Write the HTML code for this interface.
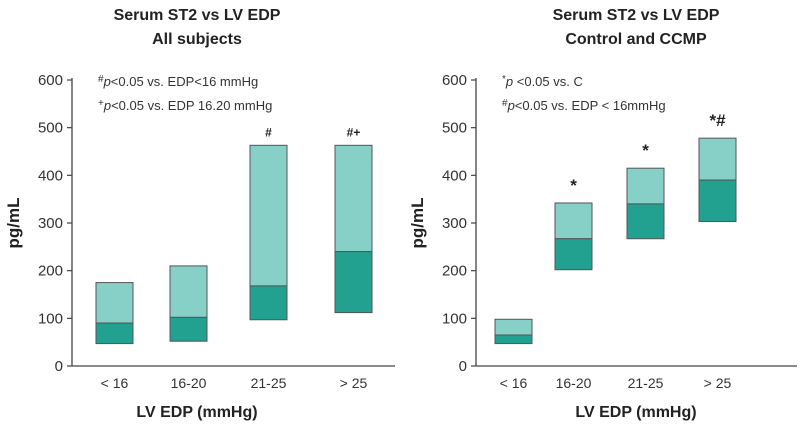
<!DOCTYPE html>
<html><head><meta charset="utf-8"><style>
body{margin:0;background:#fff;}
svg{display:block;font-family:"Liberation Sans",sans-serif;}
</style></head><body>
<svg id="c" width="800" height="437" viewBox="0 0 800 437"></svg>
<script>
const categories = ["< 16","16-20","21-25","> 25"];
const yTicks = [0,100,200,300,400,500,600];
const leftLow = [47,52,97,112];
const leftMid = [90,102,168,240];
const leftHigh = [175,210,463,463];
const leftMarks = ["","","#","#+"];
const rightLow = [47,202,267,303];
const rightMid = [65,267,340,390];
const rightHigh = [98,342,415,478];
const rightMarks = ["","*","*","*#"];

const svg = document.getElementById('c');
const NS = 'http://www.w3.org/2000/svg';
function mk(tag, attrs, text){
  const e = document.createElementNS(NS, tag);
  for (const k in attrs) e.setAttribute(k, attrs[k]);
  if (text !== undefined) e.textContent = text;
  svg.appendChild(e);
  return e;
}
const y0 = 366, y600 = 80;
function yScale(v){ return y0 - (v/600)*(y0-y600); }

function panel(p){
  const g = p;
  const ax = mk('line',{x1:g.axX,y1:y600-2,x2:g.axX,y2:y0,stroke:'#444','stroke-width':1.3});
  
  
  const bx = mk('line',{x1:g.axX,y1:y0,x2:g.axEnd,y2:y0,stroke:'#444','stroke-width':1.3});
  
  
  yTicks.forEach(t=>{
    const tk = mk('line',{x1:g.axX-5,y1:yScale(t),x2:g.axX,y2:yScale(t),stroke:'#444','stroke-width':1.2});
    
    
    const tl = mk('text',{x:g.axX-9,y:yScale(t)+5,'text-anchor':'end','font-size':15,fill:'#333'}, String(t));
    
    
  });
  categories.forEach((c,i)=>{
    const x = g.barX[i], w = 37;
    const top = mk('rect',{x:x,y:yScale(g.high[i]),width:w,height:yScale(g.mid[i])-yScale(g.high[i]),fill:'#86d0c8',stroke:'#555','stroke-width':1});
    
    
    const bot = mk('rect',{x:x,y:yScale(g.mid[i]),width:w,height:yScale(g.low[i])-yScale(g.mid[i]),fill:'#22a090',stroke:'#555','stroke-width':1});
    
    
    if (g.marks[i]) {
      const m = mk('text',{x:x+w/2,y:yScale(g.high[i])-g.markGap,'text-anchor':'middle','font-size':g.markSize,'font-weight':'bold',fill:'#222'}, g.marks[i]);
      
      
    }
    const xl = mk('text',{x:x+w/2,y:388,'text-anchor':'middle','font-size':14,fill:'#333'}, c);
    
    
  });
  const xt = mk('text',{x:g.titleX,y:417,'text-anchor':'middle','font-size':16,'font-weight':'bold',fill:'#222'}, 'LV EDP (mmHg)');
  
  
  const yt = mk('text',{x:0,y:0,'text-anchor':'middle','font-size':17,'font-weight':'bold',fill:'#222',transform:'translate('+(g.axX-53)+',223) rotate(-90)'}, 'pg/mL');
  
  
  const t1 = mk('text',{x:g.titleX,y:20,'text-anchor':'middle','font-size':16,'font-weight':'bold',fill:'#222'}, g.title1);
  
  
  const t2 = mk('text',{x:g.titleX,y:44,'text-anchor':'middle','font-size':16,'font-weight':'bold',fill:'#222'}, g.title2);
  
  
  g.notes.forEach((n,k)=>{
    const t = mk('text',{x:g.axX+26,y:86+k*24,'font-size':13,fill:'#333'});
    
    
    const s1 = document.createElementNS(NS,'tspan'); s1.setAttribute('font-size','10'); s1.setAttribute('dy','-4'); s1.textContent=n[0]; t.appendChild(s1);
    const s2 = document.createElementNS(NS,'tspan'); s2.setAttribute('font-style','italic'); s2.setAttribute('dy','4'); s2.textContent='p'; t.appendChild(s2);
    const s3 = document.createElementNS(NS,'tspan'); s3.textContent=n[1]; t.appendChild(s3);
  });
}
panel({id:'left',axX:72,axEnd:395,barX:[96,170,250,335],low:leftLow,mid:leftMid,high:leftHigh,marks:leftMarks,markGap:9,markSize:12,titleX:197,
  title1:'Serum ST2 vs LV EDP',title2:'All subjects',notes:[['#','<0.05 vs. EDP<16 mmHg'],['+','<0.05 vs. EDP 16.20 mmHg']]});
panel({id:'right',axX:476,axEnd:797,barX:[495,555,627,699],low:rightLow,mid:rightMid,high:rightHigh,marks:rightMarks,markGap:12,markSize:17,titleX:636,
  title1:'Serum ST2 vs LV EDP',title2:'Control and CCMP',notes:[['*',' <0.05 vs. C'],['#','<0.05 vs. EDP < 16mmHg']]});
</script>
</body></html>
